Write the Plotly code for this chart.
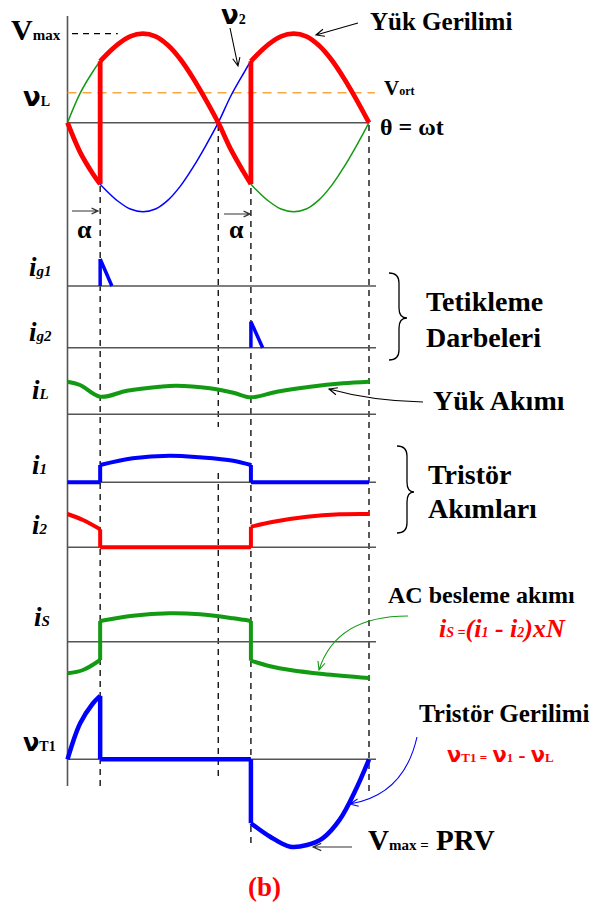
import math
import plotly.graph_objects as go

W, H = 593, 906

# ---------------- data (theta in degrees) ----------------
alpha_deg = 39
theta_v = [0, 15, 30, 39, 45, 60, 75, 90, 105, 120, 135, 150, 165, 180,
           195, 210, 219, 225, 240, 255, 270, 285, 300, 315, 330, 345, 360]
v1 = [0, 0.33, 0.57, 0.69, 0.75, 0.88, 0.97, 1.0, 0.97, 0.87, 0.71, 0.50, 0.26, 0,
      -0.30, -0.55, -0.69, -0.75, -0.88, -0.97, -1.0, -0.97, -0.87, -0.71, -0.50, -0.26, 0]
v_ort = 0.337
v_max = 1.0

theta_g1 = [39, 39, 53]
ig1 = [0, 2.7, 0]
theta_g2 = [219, 219, 233]
ig2 = [0, 2.6, 0]

theta_iL = [0, 15, 39, 71, 110, 130, 170, 198, 219, 250, 290, 329, 360]
iL = [3.26, 2.93, 1.76, 2.36, 2.76, 2.86, 2.60, 2.16, 1.70, 2.26, 2.76, 3.10, 3.26]

theta_i1 = [0, 39, 39, 78, 122, 158, 198, 219, 219, 360]
i1 = [0, 0, 1.73, 2.40, 2.66, 2.50, 2.16, 1.73, 0, 0]

theta_i2 = [0, 18.5, 39, 39, 219, 219, 246, 286, 325, 360]
i2 = [3.33, 2.73, 1.80, 0, 0, 2.06, 2.56, 3.06, 3.30, 3.33]

theta_is = [0, 18.5, 39, 39, 78, 122, 158, 198, 219, 219, 242, 266, 305, 360]
i_s = [-3.16, -2.83, -1.83, 2.07, 2.60, 2.84, 2.74, 2.34, 2.07, -1.90, -2.45, -2.83, -3.23, -3.63]

theta_t1 = [0, 15, 30, 39, 39, 219, 219, 242, 266, 286, 305, 325, 345, 360]
v_t1 = [0, 0.82, 1.27, 1.45, 0, 0, -1.46, -1.77, -2.0, -1.96, -1.80, -1.38, -0.66, 0]

# ---------------- derived series ----------------
ia = theta_v.index(alpha_deg)
ipa = theta_v.index(180 + alpha_deg)
theta_load = theta_v[:ia + 1] + theta_v[ia:ipa + 1] + theta_v[ipa:]
v_load = [-v for v in v1[:ia + 1]] + v1[ia:ipa + 1] + [-v for v in v1[ipa:]]
v2 = [-v for v in v1]

# ---------------- layout helpers ----------------
X0_PX, X360_PX = 67.5, 369.0
DEG_PER_PX = 360.0 / (X360_PX - X0_PX)
x_range = [-X0_PX * DEG_PER_PX, (W - X0_PX) * DEG_PER_PX]

SERIF = "Liberation Serif"
NU = "DejaVu Sans"
RED, GREEN, BLUE = "#ff0000", "#139a13", "#0000ff"
AX = "#555555"

# panel: axis name -> (zero line pixel y, pixels per unit)
panels = {
    "y": (122.7, 89.0),
    "y2": (286.0, 10.0),
    "y3": (347.7, 10.0),
    "y4": (414.3, 10.0),
    "y5": (482.3, 10.0),
    "y6": (547.3, 10.0),
    "y7": (641.7, 10.0),
    "y8": (759.3, 43.75),
}


def P(x, y):
    return x / W, 1 - y / H


def segments(th, vals):
    segs = []
    ct, cv = [th[0]], [vals[0]]
    for t, v in zip(th[1:], vals[1:]):
        if t == ct[-1]:
            segs.append((ct, cv))
            segs.append(([t, t], [cv[-1], v]))
            ct, cv = [t], [v]
        else:
            ct.append(t)
            cv.append(v)
    segs.append((ct, cv))
    return segs


fig = go.Figure()


def wave(th, vals, yax, color, width):
    for st, sv in segments(th, vals):
        if len(st) < 2:
            continue
        fig.add_trace(go.Scatter(
            x=st, y=sv, mode="lines", yaxis=yax, hoverinfo="skip", showlegend=False,
            line=dict(color=color, width=width, shape="spline" if len(st) > 2 else "linear",
                      smoothing=1.0)))


shapes = []
annotations = []


def zero_line(yax, x1=368.4):
    shapes.append(dict(type="line", xref="x", yref=yax, x0=0, x1=x1, y0=0, y1=0,
                       line=dict(color=AX, width=1.6), layer="below"))


def vdash(theta, y_top, y_bot):
    shapes.append(dict(type="line", xref="x", yref="paper", x0=theta, x1=theta,
                       y0=1 - y_top / H, y1=1 - y_bot / H,
                       line=dict(color="black", width=1.3, dash="6px,5px"), layer="below"))


def path_str(pts_cmds):
    out = []
    for cmd, pts in pts_cmds:
        coords = " ".join("%.5f,%.5f" % P(*p) for p in pts)
        out.append(cmd + coords)
    return " ".join(out)


def arrow(tail, head, color="black", width=1.2, ctrl=None, hl=9, spread=24):
    ref = ctrl if ctrl else tail
    dx, dy = head[0] - ref[0], head[1] - ref[1]
    n = math.hypot(dx, dy)
    ux, uy = dx / n, dy / n
    pts = []
    for s in (spread, -spread):
        a = math.radians(s)
        rx = ux * math.cos(a) - uy * math.sin(a)
        ry = ux * math.sin(a) + uy * math.cos(a)
        pts.append((head[0] - hl * rx, head[1] - hl * ry))
    cmds = [("M", [tail])]
    if ctrl:
        cmds.append(("Q", [ctrl, head]))
    else:
        cmds.append(("L", [head]))
    cmds += [("M", [pts[0]]), ("L", [head]), ("L", [pts[1]])]
    shapes.append(dict(type="path", xref="paper", yref="paper", path=path_str(cmds),
                       line=dict(color=color, width=width), fillcolor="rgba(0,0,0,0)"))


def brace(x0, xm, xt, y0, ym, y1):
    r = 10
    cmds = [("M", [(x0, y0)]), ("Q", [(xm, y0), (xm, y0 + r)]), ("L", [(xm, ym - r)]),
            ("Q", [(xm, ym), (xt, ym)]), ("Q", [(xm, ym), (xm, ym + r)]), ("L", [(xm, y1 - r)]),
            ("Q", [(xm, y1), (x0, y1)])]
    shapes.append(dict(type="path", xref="paper", yref="paper", path=path_str(cmds),
                       line=dict(color="black", width=1.3), fillcolor="rgba(0,0,0,0)"))


def text(x, y, t, size, color="black", xanchor="left", family=SERIF):
    px, py = P(x, y)
    annotations.append(dict(x=px, y=py, xref="paper", yref="paper", text=t, showarrow=False,
                            xanchor=xanchor, yanchor="middle",
                            font=dict(family=family, size=size, color=color)))


def sub(t, size, family=SERIF):
    return "<span style='font-size:%dpx;font-family:%s'>%s</span>" % (size, family, t)


# ---------------- axis lines ----------------
shapes.append(dict(type="line", xref="x", yref="paper", x0=0, x1=0, y0=1 - 16 / H, y1=1 - 786 / H,
                   line=dict(color=AX, width=1.6), layer="below"))
zero_line("y", 360)
for k in ["y2", "y3", "y4", "y5", "y6", "y7", "y8"]:
    zero_line(k)

# dashed guide lines
vdash(alpha_deg, 186, 787)
vdash(180, 125, 427)
vdash(180, 473, 779)
vdash(180 + alpha_deg, 188, 843)
vdash(360, 125, 795)

# average & Vmax dashed references
shapes.append(dict(type="line", xref="x", yref="y", x0=0, x1=367, y0=v_ort, y1=v_ort,
                   line=dict(color="#f5a742", width=1.5, dash="9px,6px"), layer="below"))
shapes.append(dict(type="line", xref="x", yref="y", x0=5.4, x1=60, y0=v_max, y1=v_max,
                   line=dict(color="black", width=1.2, dash="6px,5px"), layer="below"))

# ---------------- waveforms ----------------
wave(theta_v, v1, "y", GREEN, 1.5)
wave(theta_v, v2, "y", BLUE, 1.5)
wave(theta_load, v_load, "y", RED, 4.8)
wave(theta_g1, ig1, "y2", BLUE, 3.5)
wave(theta_g2, ig2, "y3", BLUE, 3.5)
wave(theta_iL, iL, "y4", GREEN, 4)
wave(theta_i1, i1, "y5", BLUE, 4)
wave(theta_i2, i2, "y6", RED, 4)
wave(theta_is, i_s, "y7", GREEN, 4)
wave(theta_t1, v_t1, "y8", BLUE, 4.5)

# ---------------- arrows & braces ----------------
arrow((72, 211), (98, 211), color="#333333", width=1.2, hl=7)
arrow((224, 214), (250, 214), color="#333333", width=1.2, hl=7)
arrow((230, 28), (238, 66), width=1.1)
arrow((358, 23), (316, 35), width=1.1)
arrow((423, 402), (329, 389), width=1.1, ctrl=(372, 401))
arrow((408, 616), (319, 670), color=GREEN, width=1.1, ctrl=(336, 616))
arrow((417, 737), (350, 804), color=BLUE, width=1.1, ctrl=(404, 795))
arrow((352, 847), (313, 847), color="#333333", width=1.2)
brace(389, 399, 407, 273, 318, 360)
brace(397, 407, 414, 446, 492, 533)

# ---------------- text ----------------
text(9, 30, "<b>V" + sub("max", 15) + "</b>", 30)
text(21, 97, "<b>" + sub("ν", 26, NU) + sub("L", 14) + "</b>", 26)
text(219, 15, "<b>" + sub("ν", 26, NU) + sub("2", 14) + "</b>", 26)
text(368, 21, "<b>Yük Gerilimi</b>", 25)
text(382, 88, "<b>V" + sub("ort", 12) + "</b>", 21)
text(378, 127, "<b>θ = ωt</b>", 24)
text(84, 229, "<b>α</b>", 26, xanchor="center")
text(236, 229, "<b>α</b>", 26, xanchor="center")

text(27, 267, "<b><i>i" + sub("g1", 15) + "</i></b>", 27)
text(27, 332, "<b><i>i" + sub("g2", 15) + "</i></b>", 27)
text(30, 390, "<b><i>i" + sub("L", 15) + "</i></b>", 27)
text(30, 465, "<b><i>i" + sub("1", 15) + "</i></b>", 27)
text(30, 525, "<b><i>i" + sub("2", 15) + "</i></b>", 27)
text(32, 617, "<b><i>i" + sub("S", 15) + "</i></b>", 27)
text(21, 743, "<b>" + sub("ν", 24, NU) + sub("T1", 14) + "</b>", 24)

text(424, 302, "<b>Tetikleme</b>", 28)
text(424, 337, "<b>Darbeleri</b>", 28)
text(431, 401, "<b>Yük Akımı</b>", 28)
text(426, 474, "<b>Tristör</b>", 28)
text(426, 508, "<b>Akımları</b>", 28)
text(386, 595, "<b>AC besleme akımı</b>", 24)
text(437, 628, "<b><i>i" + sub("S", 14) + sub(" =", 14) + "(i" + sub("1", 14) + " - i" + sub("2", 14)
     + ")xN</i></b>", 26, color=RED)
text(417, 713, "<b>Tristör Gerilimi</b>", 25)
text(445, 755, "<b>" + sub("ν", 21, NU) + sub("T1 =", 13) + " " + sub("ν", 21, NU) + sub("1", 13)
     + " - " + sub("ν", 21, NU) + sub("L", 13) + "</b>", 21, color=RED)
text(366, 840, "<b>V" + sub("max =", 15) + " PRV</b>", 29)
text(264, 887, "<b>(b)</b>", 27, color=RED, xanchor="center")

# ---------------- axes ----------------
layout_axes = {}
for name, (zero_px, unit) in panels.items():
    key = "yaxis" if name == "y" else "yaxis" + name[1:]
    ax = dict(range=[(zero_px - H) / unit, zero_px / unit], domain=[0, 1], visible=False,
              fixedrange=True)
    if name != "y":
        ax["overlaying"] = "y"
    layout_axes[key] = ax

fig.update_layout(
    width=W, height=H, margin=dict(l=0, r=0, t=0, b=0),
    paper_bgcolor="white", plot_bgcolor="white", showlegend=False,
    xaxis=dict(range=x_range, domain=[0, 1], visible=False, fixedrange=True),
    shapes=shapes, annotations=annotations, **layout_axes)

fig.write_html("out.html", config={"displayModeBar": False, "staticPlot": True},
               post_script="document.body.style.margin='0';document.body.style.overflow='hidden';")
